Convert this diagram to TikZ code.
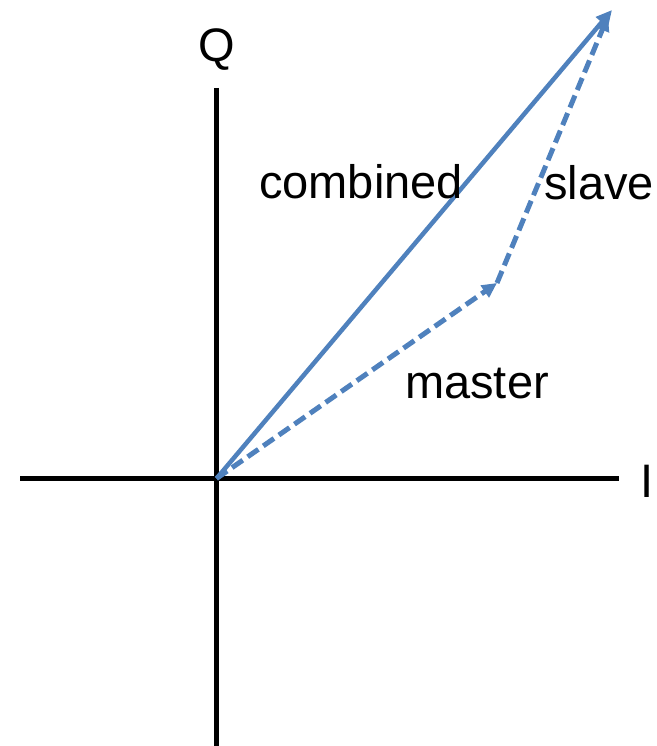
\documentclass[tikz,border=0pt]{standalone}
\usepackage{fontspec}
\setmainfont{Liberation Sans}
\usetikzlibrary{arrows.meta}
\definecolor{vecblue}{RGB}{79,129,189}
\tikzset{
  axisline/.style={line width=5pt, black},
  vecline/.style={line width=4.5pt, vecblue, -{Triangle[length=16pt,width=15pt]}},
  dashvec/.style={line width=5pt, vecblue, dash pattern=on 13pt off 6pt, -{Triangle[length=15pt,width=14pt]}},
  shade/.style={line width=5pt, black!20, opacity=0.6, xshift=1.5pt, yshift=-3pt},
  lbl/.style={font=\fontsize{47}{50}\selectfont, inner sep=0pt, anchor=base}
}
\begin{document}
\begin{tikzpicture}[x=1pt,y=-1pt]
\useasboundingbox (0,0) rectangle (656,746);
\coordinate (O) at (216.5,478.5);
\coordinate (xl) at (20,478.5);
\coordinate (xr) at (619,478.5);
\coordinate (yt) at (216.5,88);
\coordinate (yb) at (216.5,746);
\coordinate (C) at (612,10);
\coordinate (M) at (497,283);
\coordinate (S) at (608,16);
% shadows
\draw[shade] (xl) -- (xr);
\draw[shade] (yt) -- (yb);
% axes
\draw[axisline] (xl) -- (xr);
\draw[axisline] (yt) -- (yb);
% vectors
\draw[dashvec] (O) -- (M);
\draw[dashvec] (M) -- (S);
\draw[vecline] (O) -- (C);
% labels
\node[lbl] (q) at (217,62) {Q};
\node[lbl] (i) at (647,497) {I};
\node[lbl] (comb) at (361,198) {combined};
\node[lbl] (slv) at (599,200) {slave};
\node[lbl] (mst) at (477,398) {master};
\end{tikzpicture}
\end{document}
